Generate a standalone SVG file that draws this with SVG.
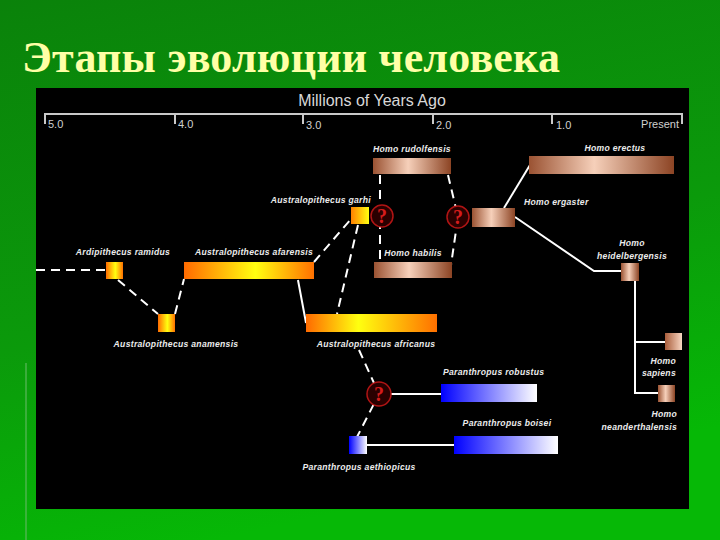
<svg xmlns="http://www.w3.org/2000/svg" width="720" height="540" viewBox="0 0 720 540">
<defs>
<linearGradient id="bg" x1="0" y1="0" x2="0.3" y2="1">
<stop offset="0" stop-color="#0a820a"/>
<stop offset="0.6" stop-color="#0b9a0b"/>
<stop offset="1" stop-color="#06b806"/>
</linearGradient>
<linearGradient id="orng" x1="0" y1="0" x2="1" y2="0">
<stop offset="0" stop-color="#ff6a00"/>
<stop offset="0.55" stop-color="#ffff10"/>
<stop offset="1" stop-color="#ff7000"/>
</linearGradient>
<linearGradient id="orng2" x1="0" y1="0" x2="1" y2="0">
<stop offset="0" stop-color="#ff6a00"/>
<stop offset="0.4" stop-color="#ffff10"/>
<stop offset="1" stop-color="#ff7000"/>
</linearGradient>
<linearGradient id="orng3" x1="0" y1="0" x2="1" y2="0">
<stop offset="0" stop-color="#ff8000"/>
<stop offset="1" stop-color="#ffff10"/>
</linearGradient>
<linearGradient id="cu" x1="0" y1="0" x2="1" y2="0">
<stop offset="0" stop-color="#9a5232"/>
<stop offset="0.45" stop-color="#f6d0ba"/>
<stop offset="1" stop-color="#8c4424"/>
</linearGradient>
<linearGradient id="cu2" x1="0" y1="0" x2="1" y2="0">
<stop offset="0" stop-color="#a85c3a"/>
<stop offset="1" stop-color="#f8d6c2"/>
</linearGradient>
<linearGradient id="blu" x1="0" y1="0" x2="1" y2="0">
<stop offset="0" stop-color="#0000ff"/>
<stop offset="1" stop-color="#ffffff"/>
</linearGradient>
</defs>
<style>
.lbl{font-family:"Liberation Sans",Arial,sans-serif;font-weight:bold;font-style:italic;font-size:8.6px;fill:#ececec;letter-spacing:0.3px}
.tick{font-family:"Liberation Sans",Arial,sans-serif;font-size:11px;fill:#d0d0d0}
.ax{stroke:#c8c8c8;stroke-width:2;fill:none}
.ln{stroke:#ffffff;stroke-width:2;fill:none}
.dl{stroke:#ffffff;stroke-width:2;fill:none;stroke-dasharray:9 6}
.q circle{fill:#2a0000;stroke:#b01414;stroke-width:1.5}
.q text{font-family:"Liberation Serif",serif;font-weight:bold;font-size:20px;fill:#d41c1c;text-anchor:middle}
.mid{text-anchor:middle}
.end{text-anchor:end}
</style>
<rect x="0" y="0" width="720" height="540" fill="url(#bg)"/>
<line x1="26" y1="363" x2="26" y2="540" stroke="#5cb85c" stroke-width="2" opacity="0.6"/>
<text x="22" y="72" font-family="'Liberation Serif','Times New Roman',serif" font-weight="bold" font-size="44" fill="#ffffa6" textLength="538" lengthAdjust="spacing">Этапы эволюции человека</text>
<rect x="36" y="88" width="653" height="421" fill="#000000"/>
<g id="axis">
<text x="372" y="106" font-family="'Liberation Sans',Arial,sans-serif" font-size="16" fill="#d8d8d8" text-anchor="middle">Millions of Years Ago</text>
<path class="ax" d="M45,114 H683 M45,113 V124 M175,113 V124 M303,113 V124 M433,113 V124 M552,113 V124 M682,113 V124"/>
<text class="tick" x="48" y="128">5.0</text>
<text class="tick" x="178" y="128">4.0</text>
<text class="tick" x="306" y="129">3.0</text>
<text class="tick" x="436" y="129">2.0</text>
<text class="tick" x="556" y="129">1.0</text>
<text class="tick end" x="679" y="128">Present</text>
</g>
<g id="connectors">
<path class="dl" d="M36,270 H106" stroke-dasharray="22 13"/>
<path class="dl" d="M118,280 L158,314"/>
<path class="dl" d="M175,314 L184,279"/>
<path class="ln" d="M298,280 L306,323"/>
<path class="dl" d="M314,262 L351,219"/>
<path class="dl" d="M358,225 L337,314"/>
<path class="dl" d="M380,175 V262"/>
<path class="dl" d="M448,175 L458,217 L451,265"/>
<path class="ln" d="M504,208 L530,165"/>
<path class="ln" d="M515,217 L594,271 H621"/>
<path class="ln" d="M635,281 V393 H658 M635,342 H665"/>
<path class="dl" d="M359,350 L379,394 L357,437"/>
<path class="ln" d="M391,394 H441"/>
<path class="ln" d="M367,445 H454"/>
</g>
<g id="ardipithecus-ramidus">
<rect x="106" y="262" width="17" height="17" fill="url(#orng)"/>
<text class="lbl mid" x="123" y="255">Ardipithecus ramidus</text>
</g>
<g id="australopithecus-anamensis">
<rect x="158" y="314" width="17" height="18" fill="url(#orng)"/>
<text class="lbl mid" x="176" y="347">Australopithecus anamensis</text>
</g>
<g id="australopithecus-afarensis">
<rect x="184" y="262" width="130" height="17" fill="url(#orng)"/>
<text class="lbl mid" x="254" y="255">Australopithecus afarensis</text>
</g>
<g id="australopithecus-garhi">
<rect x="351" y="207" width="18" height="17" fill="url(#orng3)"/>
<text class="lbl end" x="371" y="203">Australopithecus garhi</text>
</g>
<g id="australopithecus-africanus">
<rect x="306" y="314" width="131" height="18" fill="url(#orng2)"/>
<text class="lbl mid" x="376" y="347">Australopithecus africanus</text>
</g>
<g id="homo-rudolfensis">
<rect x="373" y="158" width="78" height="16" fill="url(#cu)"/>
<text class="lbl mid" x="412" y="152">Homo rudolfensis</text>
</g>
<g id="homo-habilis">
<rect x="374" y="262" width="78" height="16" fill="url(#cu)"/>
<text class="lbl mid" x="413" y="256">Homo habilis</text>
</g>
<g id="q1" class="q">
<circle cx="382" cy="216" r="11"/>
<text x="382" y="223">?</text>
</g>
<g id="q2" class="q">
<circle cx="458" cy="217" r="11"/>
<text x="458" y="224">?</text>
</g>
<g id="homo-ergaster">
<rect x="472" y="208" width="43" height="19" fill="url(#cu)"/>
<text class="lbl" x="524" y="205">Homo ergaster</text>
</g>
<g id="homo-erectus">
<rect x="529" y="156" width="145" height="18" fill="url(#cu)"/>
<text class="lbl mid" x="615" y="151">Homo erectus</text>
</g>
<g id="homo-heidelbergensis">
<rect x="621" y="263" width="18" height="18" fill="url(#cu)"/>
<text class="lbl mid" x="632" y="246">Homo</text>
<text class="lbl mid" x="632" y="259">heidelbergensis</text>
</g>
<g id="homo-sapiens">
<rect x="665" y="333" width="17" height="17" fill="url(#cu2)"/>
<text class="lbl end" x="676" y="364">Homo</text>
<text class="lbl end" x="676" y="376">sapiens</text>
</g>
<g id="homo-neanderthalensis">
<rect x="658" y="385" width="17" height="17" fill="url(#cu)"/>
<text class="lbl end" x="677" y="417">Homo</text>
<text class="lbl end" x="677" y="430">neanderthalensis</text>
</g>
<g id="q3" class="q">
<circle cx="379" cy="394" r="12"/>
<text x="379" y="401">?</text>
</g>
<g id="paranthropus-robustus">
<rect x="441" y="384" width="96" height="18" fill="url(#blu)"/>
<text class="lbl" x="443" y="375">Paranthropus robustus</text>
</g>
<g id="paranthropus-aethiopicus">
<rect x="349" y="436" width="18" height="18" fill="url(#blu)"/>
<text class="lbl mid" x="359" y="470">Paranthropus aethiopicus</text>
</g>
<g id="paranthropus-boisei">
<rect x="454" y="436" width="104" height="18" fill="url(#blu)"/>
<text class="lbl mid" x="507" y="426">Paranthropus boisei</text>
</g>
</svg>
